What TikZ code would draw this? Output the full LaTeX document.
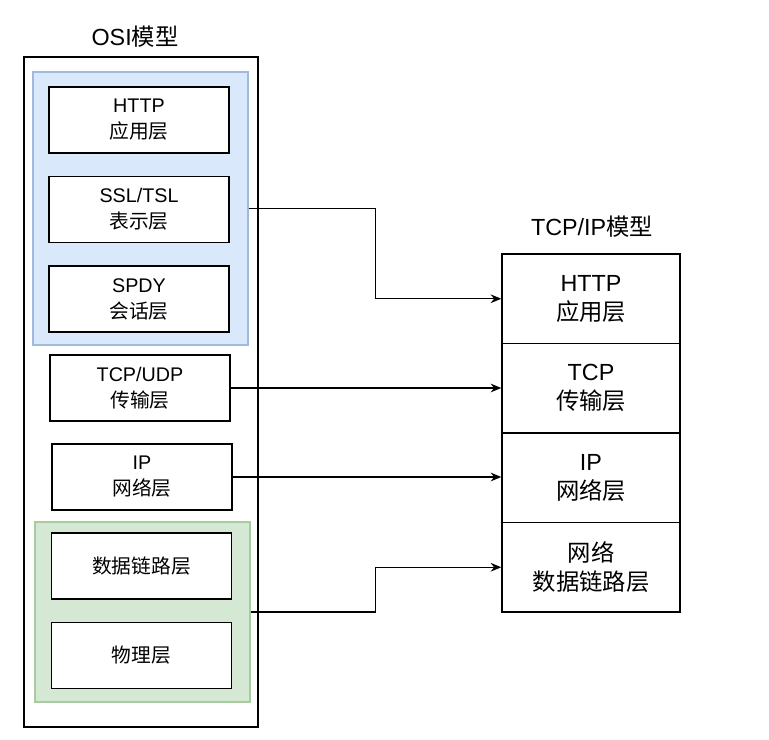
\documentclass[tikz,border=0pt]{standalone}
\usepackage{fontspec}
\setmainfont{Liberation Sans}
\newfontfamily\cjk{Noto Sans CJK SC}
\usetikzlibrary{arrows.meta}
\definecolor{upper}{RGB}{218,232,252}
\definecolor{upperline}{RGB}{160,186,222}
\definecolor{lower}{RGB}{213,232,212}
\definecolor{lowerline}{RGB}{168,204,160}

\begin{document}
\begin{tikzpicture}[x=0.75pt,y=-0.75pt,
		osilayer/.style={draw=black,fill=white,line width=1pt,minimum width=135pt,minimum height=49.5pt,align=center,font=\fontsize{14.8pt}{19.5pt}\selectfont},
		tcplayer/.style={draw=black,fill=white,line width=1pt,minimum width=133.5pt,minimum height=67.1pt,align=center,font=\fontsize{17.5pt}{21.75pt}\selectfont},
		title/.style={font=\fontsize{17.5pt}{21pt}\selectfont},
		link/.style={line width=1pt,-{Stealth[length=8pt,width=6.5pt]}}]
			\useasboundingbox (0,0) rectangle (769,740);
			\node[title] (osititle) at (135,37) {OSI{\cjk 模型}};
			\node[draw=black,line width=1pt,minimum width=175.5pt,minimum height=502.5pt] (osi) at (141,392) {};
			\node[draw=upperline,fill=upper,line width=1pt,minimum width=161.25pt,minimum height=204.75pt] (osiupper) at (140.5,208.5) {};
			\node[draw=lowerline,fill=lower,line width=1pt,minimum width=161.25pt,minimum height=135pt] (osilower) at (142.5,612) {};
			\node[osilayer] (osiapp) at (139,120) {HTTP\\{\cjk 应用层}};
			\node[osilayer] (osipre) at (139,209.5) {SSL/TSL\\{\cjk 表示层}};
			\node[osilayer] (osises) at (139,299) {SPDY\\{\cjk 会话层}};
			\node[osilayer] (ositra) at (140,388) {TCP/UDP\\{\cjk 传输层}};
			\node[osilayer] (osinet) at (142,477) {IP\\{\cjk 网络层}};
			\node[osilayer] (osilnk) at (141.5,566) {{\cjk 数据链路层}};
			\node[osilayer] (osiphy) at (141.5,655.5) {{\cjk 物理层}};
			\node[title] (tcptitle) at (592,227) {TCP/IP{\cjk 模型}};
			\node[tcplayer] (tcpapp) at (591,298.75) {HTTP\\{\cjk 应用层}};
			\node[tcplayer] (tcptra) at (591,388.25) {TCP\\{\cjk 传输层}};
			\node[tcplayer] (tcpnet) at (591,477.75) {IP\\{\cjk 网络层}};
			\node[tcplayer] (tcplnk) at (591,567.25) {{\cjk 网络}\\{\cjk 数据链路层}};
			\draw[link] (osiupper.east) -- ++(127,0) |- (tcpapp.west);
			\draw[link] (ositra.east) -- (ositra.east -| tcptra.west);
			\draw[link] (osinet.east) -- (osinet.east -| tcpnet.west);
			\draw[link] (osilower.east) -- ++(125,0) |- (tcplnk.west);
		\end{tikzpicture}
\end{document}
